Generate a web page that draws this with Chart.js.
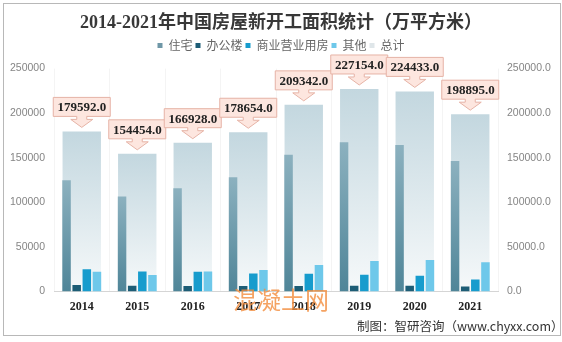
<!DOCTYPE html>
<html>
<head>
<meta charset="utf-8">
<script src="https://cdn.jsdelivr.net/npm/chart.js@4.4.0/dist/chart.umd.min.js"></script>
<style>
  html, body { margin: 0; padding: 0; background: #fff; }
  #wrap { position: relative; width: 562px; height: 342px; overflow: hidden; }
  #frame { position: absolute; left: 3px; top: 3px; width: 556px; height: 331px; border: 1px solid #b8b8b8; }
  canvas { position: absolute; left: 0; top: 0; }
  #mark { position: absolute; left: 233px; top: 281px; font: 24px "Noto Sans CJK SC", sans-serif; color: rgba(243, 140, 60, 0.8); }
  #source { position: absolute; left: 357px; top: 316px; font: 12.5px "Noto Sans CJK SC", sans-serif; color: #333; white-space: nowrap; }
</style>
</head>
<body>
<div id="wrap">
  <div id="frame"></div>
  <canvas id="chart" width="562" height="342"></canvas>
  <div id="mark">混凝土网</div>
  <div id="source">制图：智研咨询（www.chyxx.com）</div>
</div>
<script>
// 2014-2021 new construction area (10k m2)
const years = ['2014', '2015', '2016', '2017', '2018', '2019', '2020', '2021'];
const residential = [124877, 106651, 115911, 128098, 153353, 167463, 164329, 146379];
const office = [7349, 6569, 6297, 6140, 6293, 6555, 6454, 5688];
const commercial = [25048, 22530, 22317, 20253, 19941, 18914, 17900, 13700];
const other = [22318, 18704, 22403, 24163, 29755, 34222, 35300, 32800];
const totals = [179592, 154454, 166928, 178654, 209342, 227154, 224433, 198895];
const axisTicks = [0, 50000, 100000, 150000, 200000, 250000];

const seriesNames = ['住宅', '办公楼', '商业营业用房', '其他', '总计'];
const legendColors = ['#6f97a7', '#1d5d76', '#179ccd', '#6ec8ea', '#dfe6e9'];

// vertical gradient for one bar, from its top down to the baseline
function barGradient(ctx, topColor, bottomColor, fallback) {
  const chart = ctx.chart;
  if (ctx.type !== 'data' || !chart.chartArea || !ctx.parsed) return fallback;
  const y = chart.scales.y;
  const top = y.getPixelForValue(ctx.parsed.y);
  const bottom = y.getPixelForValue(0);
  if (!isFinite(top) || !isFinite(bottom) || top === bottom) return fallback;
  const g = chart.ctx.createLinearGradient(0, top, 0, bottom);
  g.addColorStop(0, topColor);
  g.addColorStop(1, bottomColor);
  return g;
}

// pink callout with a down arrow above each total bar
const calloutPlugin = {
  id: 'callouts',
  afterDatasetsDraw(chart) {
    const meta = chart.getDatasetMeta(4);
    const c = chart.ctx;
    c.save();
    c.font = 'bold 13px "Liberation Serif", serif';
    c.textAlign = 'center';
    c.textBaseline = 'middle';
    meta.data.forEach((bar, i) => {
      const cx = bar.x;
      const yTop = bar.y;
      const w = 57, h = 19;
      const boxTop = yTop - 34, boxBottom = yTop - 15;
      const headTop = yTop - 12, tip = yTop - 4;
      c.beginPath();
      c.moveTo(cx - w / 2, boxTop);
      c.lineTo(cx + w / 2, boxTop);
      c.lineTo(cx + w / 2, boxBottom);
      c.lineTo(cx + 5, boxBottom);
      c.lineTo(cx + 5, headTop);
      c.lineTo(cx + 11, headTop);
      c.lineTo(cx, tip);
      c.lineTo(cx - 11, headTop);
      c.lineTo(cx - 5, headTop);
      c.lineTo(cx - 5, boxBottom);
      c.lineTo(cx - w / 2, boxBottom);
      c.closePath();
      c.fillStyle = '#fde6df';
      c.fill();
      c.strokeStyle = '#e6b3a6';
      c.lineWidth = 1;
      c.stroke();
      c.fillStyle = '#222';
      c.fillText(totals[i].toFixed(1), cx, boxTop + h / 2 + 1);
    });
    c.restore();
  }
};

// extra room between legend and plot
const legendGap = {
  id: 'legendGap',
  beforeInit(chart) {
    const fit = chart.legend.fit;
    chart.legend.fit = function () {
      fit.bind(chart.legend)();
      this.height += 7;
    };
  }
};

const subBar = { categoryPercentage: 0.73, barPercentage: 0.84 };
const tickFont = { family: '"Liberation Sans", sans-serif', size: 10.5 };

new Chart(document.getElementById('chart'), {
  type: 'bar',
  data: {
    labels: years,
    datasets: [
      Object.assign({
        label: seriesNames[0], data: residential,
        backgroundColor: ctx => barGradient(ctx, '#8cb1bf', '#4f8598', legendColors[0])
      }, subBar),
      Object.assign({ label: seriesNames[1], data: office, backgroundColor: legendColors[1] }, subBar),
      Object.assign({ label: seriesNames[2], data: commercial, backgroundColor: legendColors[2] }, subBar),
      Object.assign({ label: seriesNames[3], data: other, backgroundColor: legendColors[3] }, subBar),
      {
        label: seriesNames[4], data: totals, grouped: false, barPercentage: 0.865,
        backgroundColor: ctx => barGradient(ctx, '#c3d7df', '#f6f9fa', legendColors[4])
      }
    ]
  },
  options: {
    responsive: false,
    animation: false,
    layout: { padding: { top: 4, left: 0, right: 0, bottom: 20 } },
    plugins: {
      title: {
        display: true,
        text: '2014-2021年中国房屋新开工面积统计（万平方米）',
        color: '#383838',
        font: { family: '"Liberation Serif", "Noto Sans CJK SC", serif', size: 18, weight: 'bold' },
        padding: { top: 9, bottom: 2 }
      },
      legend: {
        position: 'top',
        labels: {
          boxWidth: 5, boxHeight: 5, padding: 3,
          color: '#666',
          font: { family: '"Noto Sans CJK SC", sans-serif', size: 12 },
          generateLabels(chart) {
            const items = Chart.defaults.plugins.legend.labels.generateLabels(chart);
            items.forEach((it, i) => { it.fillStyle = legendColors[i]; it.strokeStyle = legendColors[i]; it.lineWidth = 0; });
            return items;
          }
        }
      },
      tooltip: { enabled: false }
    },
    scales: {
      x: {
        grid: { color: 'rgba(0,0,0,0.045)', drawTicks: false, offset: true },
        border: { color: '#d5d5d5' },
        ticks: { color: '#222', padding: 8, font: { family: '"Liberation Serif", serif', size: 12, weight: 'bold' } }
      },
      y: {
        position: 'left', min: 0, max: 250000,
        afterBuildTicks: s => { s.ticks = axisTicks.map(v => ({ value: v })); },
        afterFit: s => { s.width = 54; },
        grid: { display: false, drawTicks: false },
        border: { display: false },
        ticks: { color: '#858585', padding: 9, font: tickFont, callback: v => String(v) }
      },
      y1: {
        position: 'right', display: true, min: 0, max: 250000,
        afterBuildTicks: s => { s.ticks = axisTicks.map(v => ({ value: v })); },
        afterFit: s => { s.width = 64; },
        grid: { display: false, drawTicks: false },
        border: { display: false },
        ticks: { color: '#858585', padding: 9, font: tickFont, callback: v => Number(v).toFixed(1) }
      }
    }
  },
  plugins: [calloutPlugin, legendGap]
});
</script>
</body>
</html>
